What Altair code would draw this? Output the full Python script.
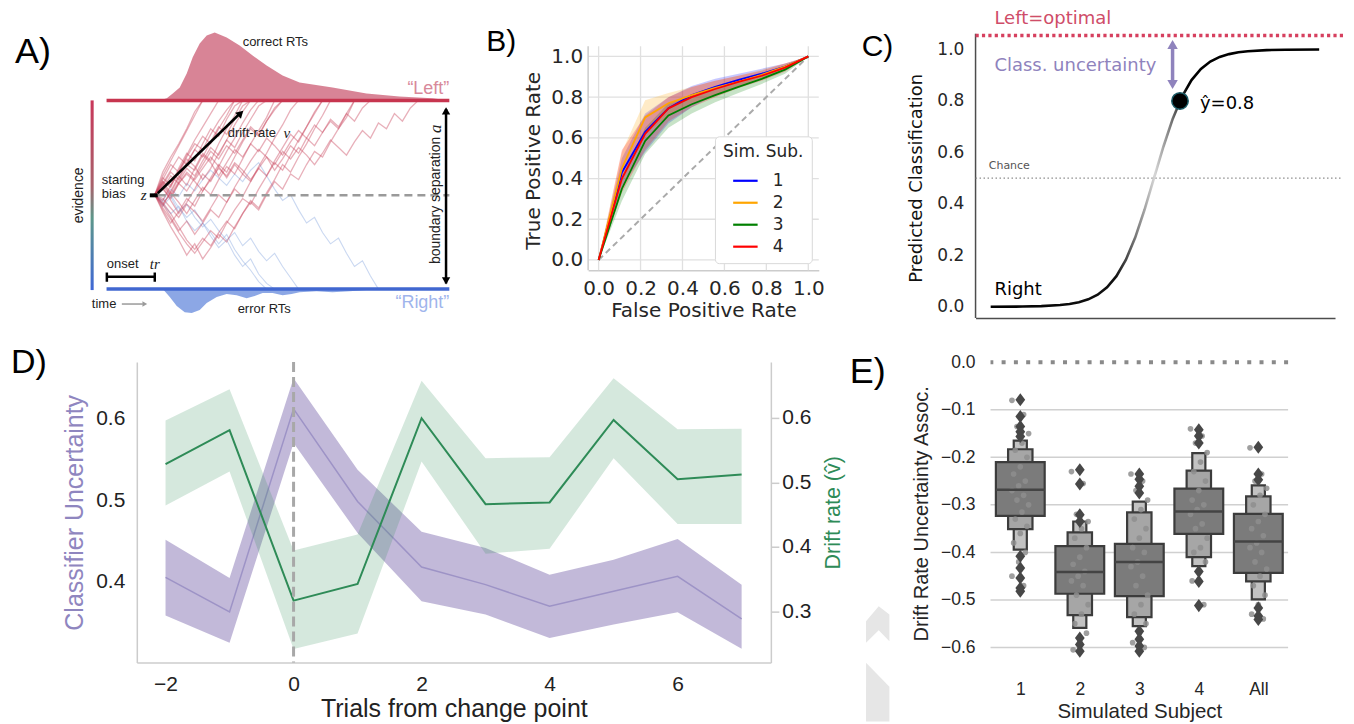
import altair as alt
import pandas as pd

AR = "Liberation Sans"
SE = "Liberation Serif"
DV = "DejaVu Sans"
INK = "#262626"
one = pd.DataFrame({"k": [0]})

# ======================= DATA =======================
# ---- Panel A (drift diffusion sketch) ----
left_rt_t = [65, 72, 78, 85, 92, 98, 105, 112, 120, 132, 145, 158, 172, 188, 205, 238, 272, 305, 338, 355]
left_rt_h = [0, 0.011, 0.037, 0.069, 0.143, 0.228, 0.302, 0.344, 0.360, 0.333, 0.291, 0.238,
             0.185, 0.132, 0.095, 0.069, 0.037, 0.021, 0.011, 0]
right_rt_t = [68, 75, 82, 90, 97, 105, 112, 122, 132, 142, 152, 160, 168, 178, 188, 197, 205, 222, 238, 255, 272, 288]
right_rt_h = [0, 0.042, 0.090, 0.122, 0.127, 0.111, 0.074, 0.042, 0.026, 0.032, 0.048, 0.037,
              0.021, 0.021, 0.032, 0.026, 0.016, 0.011, 0.016, 0.011, 0.005, 0]
walk_start, walk_step = 60, 8
red_walks = {
    "r1": [0.5, 0.58, 0.66, 0.62, 0.71, 0.79, 0.86, 0.93, 1.0],
    "r2": [0.5, 0.44, 0.52, 0.60, 0.55, 0.64, 0.72, 0.68, 0.77, 0.85, 0.92, 1.0],
    "r3": [0.5, 0.57, 0.51, 0.59, 0.67, 0.74, 0.70, 0.78, 0.86, 0.82, 0.90, 0.97, 1.0],
    "r4": [0.5, 0.42, 0.35, 0.41, 0.48, 0.44, 0.52, 0.59, 0.66, 0.62, 0.70, 0.78, 0.85, 0.81, 0.89, 0.96, 1.0],
    "r5": [0.5, 0.60, 0.68, 0.76, 0.84, 0.92, 1.0],
    "r6": [0.5, 0.45, 0.38, 0.31, 0.36, 0.29, 0.35, 0.42, 0.38, 0.46, 0.53, 0.49, 0.57, 0.64, 0.60, 0.68,
           0.75, 0.82, 0.78, 0.86, 0.93, 1.0],
    "r7": [0.5, 0.55, 0.62, 0.58, 0.66, 0.63, 0.71, 0.67, 0.60, 0.67, 0.74, 0.70, 0.77, 0.73, 0.80, 0.76,
           0.71, 0.78, 0.84, 0.80, 0.87, 0.83, 0.90, 0.86, 0.93, 0.89, 0.96, 1.0],
    "r8": [0.5, 0.46, 0.40, 0.33, 0.26, 0.21, 0.27, 0.23, 0.30, 0.36, 0.32, 0.40, 0.46, 0.42, 0.50, 0.57,
           0.53, 0.61, 0.58, 0.66, 0.73, 0.70, 0.78, 0.85, 0.91, 1.0],
    "r9": [0.5, 0.57, 0.54, 0.63, 0.70, 0.77, 0.74, 0.82, 0.89, 0.95, 1.0],
    "r10": [0.5, 0.53, 0.48, 0.56, 0.61, 0.57, 0.52, 0.58, 0.64, 0.60, 0.67, 0.63, 0.58, 0.64, 0.70, 0.66,
            0.73, 0.69, 0.75, 0.71, 0.66, 0.72, 0.79, 0.75, 0.71, 0.78, 0.84, 0.80, 0.88, 0.85, 0.93, 0.89, 0.96, 1.0],
    "r11": [0.5, 0.54, 0.47, 0.40, 0.46, 0.53, 0.61, 0.57, 0.65, 0.73, 0.80, 0.88, 0.95, 1.0],
    "r12": [0.5, 0.56, 0.63, 0.70, 0.66, 0.74, 0.81, 0.77, 0.85, 0.92, 1.0],
    "r13": [0.5, 0.47, 0.55, 0.62, 0.69, 0.65, 0.58, 0.64, 0.72, 0.79, 0.75, 0.83, 0.90, 0.97, 1.0],
    "r14": [0.5, 0.43, 0.37, 0.30, 0.24, 0.19, 0.25, 0.31, 0.27, 0.35, 0.42, 0.48, 0.45, 0.53, 0.60, 0.67,
            0.63, 0.71, 0.79, 0.86, 0.94, 1.0],
    "r15": [0.5, 0.55, 0.49, 0.56, 0.62, 0.58, 0.64, 0.70, 0.65, 0.59, 0.66, 0.61, 0.68, 0.74, 0.70, 0.63,
            0.69, 0.76, 0.72, 0.80, 0.76, 0.83, 0.89, 0.85, 0.93, 1.0],
    "r16": [0.5, 0.62, 0.70, 0.77, 0.85, 0.94, 1.0],
    "r17": [0.5, 0.41, 0.33, 0.26, 0.18, 0.24, 0.16, 0.22, 0.29, 0.25, 0.33, 0.40, 0.47, 0.43, 0.51, 0.58,
            0.66, 0.62, 0.70, 0.77, 0.85, 0.92, 1.0],
    "r18": [0.5, 0.53, 0.60, 0.56, 0.52, 0.59, 0.66, 0.73, 0.69, 0.76, 0.72, 0.79, 0.86, 0.82, 0.89, 0.95, 1.0],
    "r19": [0.5, 0.56, 0.50, 0.57, 0.64, 0.60, 0.68, 0.75, 0.71, 0.79, 0.87, 0.94, 1.0],
    "r20": [0.5, 0.45, 0.51, 0.46, 0.40, 0.47, 0.54, 0.50, 0.58, 0.65, 0.61, 0.69, 0.77, 0.84, 0.91, 1.0],
    "r21": [0.5, 0.59, 0.55, 0.64, 0.72, 0.68, 0.77, 0.85, 0.81, 0.90, 0.97, 1.0],
    "r22": [0.5, 0.48, 0.43, 0.38, 0.45, 0.41, 0.36, 0.43, 0.50, 0.46, 0.54, 0.61, 0.57, 0.65, 0.72, 0.80, 0.87, 0.95, 1.0],
}
blue_walks = {
    "b1": [0.5, 0.45, 0.40, 0.44, 0.36, 0.31, 0.35, 0.28, 0.22, 0.26, 0.18, 0.12, 0.16, 0.08, 0.03, 0.0],
    "b2": [0.5, 0.47, 0.53, 0.49, 0.56, 0.52, 0.58, 0.63, 0.59, 0.55, 0.61, 0.57, 0.63, 0.67, 0.60, 0.53,
           0.47, 0.50, 0.42, 0.35, 0.38, 0.30, 0.24, 0.27, 0.19, 0.12, 0.15, 0.07, 0.0],
    "b3": [0.5, 0.46, 0.50, 0.43, 0.38, 0.42, 0.35, 0.30, 0.24, 0.29, 0.21, 0.15, 0.10, 0.04, 0.0],
    "b4": [0.5, 0.44, 0.49, 0.41, 0.45, 0.38, 0.33, 0.37, 0.31, 0.26, 0.30, 0.23, 0.27, 0.20, 0.15, 0.19, 0.12, 0.06, 0.0],
}

# ---- Panel B (ROC) ----
fpr = [0, 0.111, 0.222, 0.333, 0.444, 0.556, 0.667, 0.778, 0.889, 1.0]
subjects = ["1", "2", "3", "4"]
tpr_mean = {
    "1": [0, 0.43, 0.63, 0.745, 0.81, 0.85, 0.885, 0.915, 0.95, 1.0],
    "2": [0, 0.45, 0.70, 0.77, 0.81, 0.845, 0.875, 0.91, 0.95, 1.0],
    "3": [0, 0.35, 0.585, 0.71, 0.765, 0.81, 0.85, 0.89, 0.935, 1.0],
    "4": [0, 0.40, 0.62, 0.745, 0.80, 0.84, 0.875, 0.905, 0.945, 1.0],
}
tpr_lo = {
    "1": [0, 0.36, 0.53, 0.67, 0.75, 0.81, 0.855, 0.895, 0.935, 1.0],
    "2": [0, 0.38, 0.62, 0.71, 0.77, 0.81, 0.85, 0.89, 0.935, 1.0],
    "3": [0, 0.29, 0.52, 0.65, 0.72, 0.775, 0.82, 0.865, 0.915, 1.0],
    "4": [0, 0.33, 0.54, 0.68, 0.75, 0.80, 0.845, 0.88, 0.925, 1.0],
}
tpr_hi = {
    "1": [0, 0.50, 0.72, 0.80, 0.855, 0.89, 0.915, 0.94, 0.965, 1.0],
    "2": [0, 0.53, 0.785, 0.82, 0.85, 0.88, 0.905, 0.935, 0.965, 1.0],
    "3": [0, 0.41, 0.65, 0.77, 0.81, 0.845, 0.88, 0.915, 0.955, 1.0],
    "4": [0, 0.54, 0.71, 0.80, 0.85, 0.88, 0.905, 0.93, 0.965, 1.0],
}
sub_colors = ["#0000ff", "#ffa500", "#008000", "#ff0000"]
ticks01 = [0, 0.2, 0.4, 0.6, 0.8, 1.0]

# ---- Panel C (sigmoid) ----
sig_x = [-8.7, -7, -6, -5, -4.5, -4, -3.5, -3, -2.5, -2, -1.5, -1, -0.5, 0, 0.5, 1, 1.5, 2, 2.5,
         3, 3.5, 4, 4.5, 5, 6, 7, 8.8]
sig_y = [0.0002, 0.0009, 0.0025, 0.0067, 0.011, 0.018, 0.029, 0.047, 0.076, 0.119, 0.182, 0.269,
         0.378, 0.5, 0.622, 0.731, 0.818, 0.881, 0.924, 0.953, 0.971, 0.982, 0.989, 0.993, 0.9975, 0.999, 1.0]
yhat = 0.8
yhat_x = 1.386

# ---- Panel D (change point) ----
trials = [-2, -1, 0, 1, 2, 3, 4, 5, 6, 7]
unc = [0.4056, 0.3633, 0.6119, 0.4985, 0.4183, 0.3967, 0.3702, 0.3885, 0.4069, 0.3548]
unc_lo = [0.3588, 0.3254, 0.5700, 0.4599, 0.3763, 0.3600, 0.3315, 0.3478, 0.3628, 0.3181]
unc_hi = [0.4517, 0.4049, 0.6494, 0.5373, 0.4615, 0.4416, 0.4089, 0.4273, 0.4526, 0.3967]
drift = [0.5283, 0.5810, 0.3166, 0.3424, 0.5995, 0.4663, 0.4689, 0.5969, 0.5050, 0.5122]
drift_lo = [0.4642, 0.5169, 0.2418, 0.2655, 0.5323, 0.3894, 0.3971, 0.5376, 0.4354, 0.4354]
drift_hi = [0.5958, 0.6444, 0.3945, 0.4193, 0.6578, 0.5376, 0.5391, 0.6614, 0.5825, 0.5830]
# faint grey shapes at the right edge of panel D (in panel D units)
chev1_x = [8.944, 9.142, 9.309]
chev1_top = [0.3518, 0.3702, 0.3600]
chev1_bot = [0.3254, 0.3408, 0.3274]
chev2_x = [8.944, 9.309]
chev2_top = [0.3010, 0.2716]
chev2_bot = [0.2292, 0.2292]

# ---- Panel E (boxen) ----
cats = ["1", "2", "3", "4", "All"]
l1_lo = [-0.323, -0.487, -0.492, -0.361, -0.443]
l1_hi = [-0.210, -0.387, -0.382, -0.266, -0.319]
l2_lo = [-0.351, -0.532, -0.536, -0.410, -0.461]
l2_hi = [-0.183, -0.358, -0.316, -0.228, -0.282]
l3_lo = [-0.394, -0.559, -0.555, -0.429, -0.499]
l3_hi = [-0.165, -0.335, -0.293, -0.191, -0.259]
medians = [-0.268, -0.441, -0.420, -0.314, -0.377]
outliers = {
    "1": [-0.079, -0.114, -0.135, -0.146, -0.156, -0.408, -0.433, -0.454, -0.475, -0.482],
    "2": [-0.226, -0.256, -0.321, -0.335, -0.580, -0.594, -0.608],
    "3": [-0.235, -0.246, -0.261, -0.275, -0.566, -0.583, -0.597, -0.608],
    "4": [-0.142, -0.155, -0.170, -0.440, -0.461, -0.512],
    "All": [-0.179, -0.235, -0.247, -0.517, -0.534, -0.541],
}
strips = {
    "1": [-0.08, -0.11, -0.135, -0.15, -0.17, -0.185, -0.20, -0.22, -0.235, -0.25, -0.26, -0.27, -0.28,
          -0.29, -0.30, -0.315, -0.33, -0.345, -0.36, -0.38, -0.40, -0.42, -0.45, -0.47],
    "2": [-0.23, -0.255, -0.32, -0.335, -0.35, -0.37, -0.39, -0.41, -0.425, -0.44, -0.45, -0.46, -0.47,
          -0.49, -0.51, -0.53, -0.55, -0.57, -0.59, -0.605],
    "3": [-0.235, -0.25, -0.27, -0.29, -0.31, -0.33, -0.35, -0.37, -0.39, -0.40, -0.42, -0.43, -0.45,
          -0.47, -0.49, -0.51, -0.53, -0.55, -0.57, -0.59, -0.60],
    "4": [-0.14, -0.155, -0.17, -0.19, -0.21, -0.23, -0.25, -0.27, -0.29, -0.30, -0.31, -0.32, -0.34,
          -0.35, -0.37, -0.39, -0.40, -0.42, -0.44, -0.46, -0.51],
    "All": [-0.18, -0.235, -0.25, -0.265, -0.28, -0.30, -0.32, -0.335, -0.35, -0.365, -0.38, -0.39, -0.40,
            -0.42, -0.435, -0.45, -0.47, -0.49, -0.51, -0.53, -0.54],
}
e_ticks = [0.0, -0.1, -0.2, -0.3, -0.4, -0.5, -0.6]


def panel_label(txt, px, py, size=36):
    return alt.Chart(one).mark_text(text=txt, font=AR, fontSize=size, align="left",
                                    baseline="alphabetic", color="black").encode(
        x=alt.value(px), y=alt.value(py))


def spacer(w, h=50, anchor_y=None):
    pt = alt.Chart(one).mark_point(opacity=0, size=4).encode(
        x=alt.value(w / 2), y=alt.value(25))
    if anchor_y is not None:
        rect = alt.Chart(one).mark_rect(opacity=0).encode(
            x=alt.value(0), x2=alt.value(1), y=alt.value(anchor_y), y2=alt.value(anchor_y + 1))
        return alt.layer(pt, rect).properties(width=w, height=h)
    return pt.properties(width=w, height=h)


# ======================= PANEL A =======================
sxA = alt.Scale(domain=[-87, 336], nice=False, zero=False)
syA = alt.Scale(domain=[-0.1534, 1.4868], nice=False, zero=False)


def XA(f):
    return alt.X(f, type="quantitative", scale=sxA, axis=None)


def YA(f):
    return alt.Y(f, type="quantitative", scale=syA, axis=None)


def walks_df(d):
    rows = []
    for name, vals in d.items():
        for i, v in enumerate(vals):
            rows.append({"w": name, "t": walk_start + walk_step * i, "e": v})
    return pd.DataFrame(rows)


anchor_tl = alt.Chart(one).mark_rect(opacity=0).encode(
    x=alt.value(0), x2=alt.value(1), y=alt.value(0), y2=alt.value(1))
anchor_bl = alt.Chart(one).mark_rect(opacity=0).encode(
    x=alt.value(0), x2=alt.value(1), y=alt.value(318), y2=alt.value(319))

grad_bar = alt.Chart(pd.DataFrame({"t0": [-4.3], "t1": [-1.2], "e0": [-0.005], "e1": [1.0]})).mark_rect(
    fill=alt.Gradient(gradient="linear", x1=0, x2=0, y1=0, y2=1, stops=[
        alt.GradientStop(offset=0, color="#c9375a"), alt.GradientStop(offset=0.45, color="#a8626c"),
        alt.GradientStop(offset=0.62, color="#5d978a"), alt.GradientStop(offset=1, color="#3f67d6")])
).encode(x=XA("t0"), x2="t1", y=YA("e1"), y2="e0")

dens_top = alt.Chart(pd.DataFrame({"t": left_rt_t, "h": left_rt_h})).transform_calculate(
    top="1 + datum.h", base="1").mark_area(color="#d57a8d", opacity=0.92).encode(
    x=XA("t"), y=YA("top"), y2="base")
dens_bot = alt.Chart(pd.DataFrame({"t": right_rt_t, "h": right_rt_h})).transform_calculate(
    bot="-datum.h", base="0").mark_area(color="#7f9de2", opacity=0.9).encode(
    x=XA("t"), y=YA("bot"), y2="base")

walk_blue = alt.Chart(walks_df(blue_walks)).mark_line(color="#8aa8e0", strokeWidth=1.1, opacity=0.45).encode(
    x=XA("t"), y=YA("e"), detail="w:N")
walk_red = alt.Chart(walks_df(red_walks)).mark_line(color="#c8435a", strokeWidth=1.3, opacity=0.42).encode(
    x=XA("t"), y=YA("e"), detail="w:N")

bound_left = alt.Chart(pd.DataFrame({"t0": [11.7], "t1": [355], "e": [1.0]})).mark_rule(
    color="#c7354f", strokeWidth=3.5).encode(x=XA("t0"), x2="t1", y=YA("e"))
bound_right = alt.Chart(pd.DataFrame({"t0": [11.7], "t1": [355], "e": [0.0]})).mark_rule(
    color="#4167d0", strokeWidth=3.5).encode(x=XA("t0"), x2="t1", y=YA("e"))
z_line = alt.Chart(pd.DataFrame({"t0": [63], "t1": [355], "e": [0.497]})).mark_rule(
    color="#9a9a9a", strokeWidth=2.5, strokeDash=[8, 5]).encode(x=XA("t0"), x2="t1", y=YA("e"))
z_mark = alt.Chart(pd.DataFrame({"t0": [55], "t1": [63], "e": [0.497]})).mark_rule(
    color="black", strokeWidth=4).encode(x=XA("t0"), x2="t1", y=YA("e"))
drift_arrow = alt.Chart(pd.DataFrame({"t0": [63], "t1": [144], "e0": [0.508], "e1": [0.924]})).mark_rule(
    color="black", strokeWidth=2.5).encode(x=XA("t0"), x2="t1", y=YA("e0"), y2="e1")
drift_head = alt.Chart(pd.DataFrame({"t": [146], "e": [0.932]})).mark_point(
    shape="triangle-up", angle=46, filled=True, color="black", size=70, opacity=1).encode(x=XA("t"), y=YA("e"))
sep_arrow = alt.Chart(pd.DataFrame({"t": [351.7], "e0": [0.03], "e1": [0.955]})).mark_rule(
    color="black", strokeWidth=2.5).encode(x=XA("t"), y=YA("e0"), y2="e1")
sep_heads = alt.Chart(pd.DataFrame({"t": [351.7, 351.7], "e": [0.945, 0.044],
                                    "s": ["triangle-up", "triangle-down"]})).mark_point(
    filled=True, color="black", size=70, opacity=1).encode(
    x=XA("t"), y=YA("e"), shape=alt.Shape("s:N", scale=None))
onset_bar = alt.Chart(pd.DataFrame({"t0": [12], "t1": [60], "e": [0.065]})).mark_rule(
    color="black", strokeWidth=2.5).encode(x=XA("t0"), x2="t1", y=YA("e"))
onset_ends = alt.Chart(pd.DataFrame({"t": [12, 60], "e0": [0.039, 0.039], "e1": [0.088, 0.088]})).mark_rule(
    color="black", strokeWidth=2.5).encode(x=XA("t"), y=YA("e0"), y2="e1")
time_arrow = alt.Chart(pd.DataFrame({"t0": [27], "t1": [48], "e": [-0.079]})).mark_rule(
    color="#9a9a9a", strokeWidth=1.5).encode(x=XA("t0"), x2="t1", y=YA("e"))
time_head = alt.Chart(pd.DataFrame({"t": [50], "e": [-0.079]})).mark_point(
    shape="triangle-right", filled=True, color="#9a9a9a", size=30, opacity=1).encode(x=XA("t"), y=YA("e"))

a_plain = pd.DataFrame({
    "txt": ["correct RTs", "error RTs", "starting", "bias", "onset", "time", "drift-rate"],
    "t": [148, 143, 7, 7, 12, -3, 133],
    "e": [1.307, -0.106, 0.580, 0.505, 0.132, -0.079, 0.825]})
a_text = alt.Chart(a_plain).mark_text(font=AR, fontSize=13, color="#222", align="left", baseline="middle").encode(
    x=XA("t"), y=YA("e"), text="txt:N")
a_ital = alt.Chart(pd.DataFrame({"txt": ["z", "tr", "v"], "t": [46, 55, 189], "e": [0.498, 0.132, 0.825]})).mark_text(
    font=SE, fontStyle="italic", fontSize=15, color="#222", align="left", baseline="middle").encode(
    x=XA("t"), y=YA("e"), text="txt:N")
a_rot = alt.Chart(pd.DataFrame({"txt": ["evidence", "boundary separation"], "t": [-16, 342],
                                "e": [0.497, 0.47]})).mark_text(
    font=AR, fontSize=14, color="#222", angle=270, align="center", baseline="middle").encode(
    x=XA("t"), y=YA("e"), text="txt:N")
a_rot_it = alt.Chart(pd.DataFrame({"txt": ["a"], "t": [342], "e": [0.85]})).mark_text(
    font=SE, fontStyle="italic", fontSize=17, color="#222", angle=270, align="center", baseline="middle").encode(
    x=XA("t"), y=YA("e"), text="txt:N")
a_left = alt.Chart(pd.DataFrame({"txt": ["\u201cLeft\u201d"], "t": [355], "e": [1.058]})).mark_text(
    font=AR, fontSize=18, color="#d8899a", align="right", baseline="middle").encode(
    x=XA("t"), y=YA("e"), text="txt:N")
a_right = alt.Chart(pd.DataFrame({"txt": ["\u201cRight\u201d"], "t": [355], "e": [-0.074]})).mark_text(
    font=AR, fontSize=18, color="#9fb5ec", align="right", baseline="middle").encode(
    x=XA("t"), y=YA("e"), text="txt:N")

panelA = alt.layer(
    anchor_tl, anchor_bl, grad_bar, dens_top, dens_bot, walk_blue, walk_red, bound_left, bound_right,
    z_line, z_mark, drift_arrow, drift_head, sep_arrow, sep_heads, onset_bar, onset_ends, time_arrow,
    time_head, a_text, a_ital, a_rot, a_rot_it, a_left, a_right, panel_label("A)", 7, 55)
).properties(width=423, height=310)

# ======================= PANEL B =======================
sxB = alt.Scale(domain=[-0.05, 1.05], nice=False, zero=False)
syB = alt.Scale(domain=[-0.05, 1.2353], nice=False, zero=False)
axXB = alt.Axis(values=ticks01, format=".1f", grid=False, ticks=False, domain=True, domainColor="#cccccc",
                domainWidth=1.5, labelFont=DV, labelFontSize=20, labelColor=INK, labelPadding=8,
                title="False Positive Rate", titleFont=DV, titleFontSize=20, titleFontWeight="normal",
                titleColor=INK, titlePadding=2)
axYB = alt.Axis(values=ticks01, format=".1f", grid=False, ticks=False, domain=False, labelFont=DV,
                labelFontSize=20, labelColor=INK, labelPadding=5.5, title="True Positive Rate", titleFont=DV,
                titleFontSize=20, titleFontWeight="normal", titleColor=INK, titlePadding=7, titleY=152)


def XB(f):
    return alt.X(f, type="quantitative", scale=sxB, axis=axXB)


def YB(f):
    return alt.Y(f, type="quantitative", scale=syB, axis=axYB)


roc_rows = []
for s in subjects:
    for i, fp in enumerate(fpr):
        roc_rows.append({"sub": s, "fpr": fp, "m": tpr_mean[s][i], "lo": tpr_lo[s][i], "hi": tpr_hi[s][i]})
roc = pd.DataFrame(roc_rows)
colB = alt.Scale(domain=subjects, range=sub_colors)
# legend position is relative to the whole figure's origin
legB = alt.Legend(
    title="Sim. Sub.", orient="none", legendX=708, legendY=128, titleFont=DV, titleFontSize=17,
    titleFontWeight="normal", titleColor=INK, labelFont=DV, labelFontSize=17, labelColor=INK,
    symbolType="stroke", symbolSize=600, symbolStrokeWidth=2.2, symbolOffset=9, symbolOpacity=1,
    labelOffset=14, fillColor="white", strokeColor="#d9d9d9", padding=8, cornerRadius=4, rowPadding=0,
    titlePadding=6)

hgrid = alt.Chart(pd.DataFrame({"g": ticks01})).mark_rule(color="#e0e0e0", strokeWidth=1.3).encode(y=YB("g"))
vgrid = alt.Chart(pd.DataFrame({"g": ticks01, "a": [-0.05] * 6, "b": [1.05] * 6})).mark_rule(
    color="#e0e0e0", strokeWidth=1.3).encode(x=XB("g"), y=YB("a"), y2="b")
spineB = alt.Chart(pd.DataFrame({"g": [-0.05], "a": [-0.05], "b": [1.05]})).mark_rule(
    color="#cccccc", strokeWidth=1.5).encode(x=XB("g"), y=YB("a"), y2="b")
diag = alt.Chart(pd.DataFrame({"fpr": [0, 1], "tpr": [0, 1]})).mark_line(
    color="#aaaaaa", strokeWidth=2, strokeDash=[6, 4]).encode(x=XB("fpr"), y=YB("tpr"))
bandsB = alt.Chart(roc).mark_area(opacity=0.22).encode(
    x=XB("fpr"), y=YB("lo"), y2="hi", color=alt.Color("sub:N", scale=colB, legend=legB), detail="sub:N")
linesB = alt.Chart(roc).mark_line(strokeWidth=1.8).encode(
    x=XB("fpr"), y=YB("m"), color=alt.Color("sub:N", scale=colB, legend=legB))

panelB = alt.layer(hgrid, vgrid, spineB, diag, bandsB, linesB,
                   panel_label("B)", -102, 43, 30)).properties(width=231, height=262)

# ======================= PANEL C =======================
sxC = alt.Scale(domain=[-9.505, 9.644], nice=False, zero=False)
syC = alt.Scale(domain=[-0.0438, 1.1591], nice=False, zero=False)
axXC = alt.Axis(labels=False, ticks=False, grid=False, title=None, domainColor="#4d4d4d", domainWidth=1.5)
axYC = alt.Axis(values=ticks01, format=".1f", domain=False, ticks=False, grid=False, labelFont=DV,
                labelFontSize=17, labelColor=INK, labelPadding=11.7, title="Predicted Classification",
                titleFont=DV, titleFontSize=18, titleFontWeight="normal", titleColor="#111111",
                titlePadding=11, titleY=169.5)


def XC(f):
    return alt.X(f, type="quantitative", scale=sxC, axis=axXC)


def YC(f):
    return alt.Y(f, type="quantitative", scale=syC, axis=axYC)


spineC = alt.Chart(pd.DataFrame({"x": [-9.505], "a": [-0.0438], "b": [1.061]})).mark_rule(
    color="#4d4d4d", strokeWidth=1.5).encode(x=XC("x"), y=YC("a"), y2="b")
chance = alt.Chart(pd.DataFrame({"x0": [-9.505], "x1": [10.05], "y": [0.5]})).mark_rule(
    color="#8c8c8c", strokeWidth=1.3, strokeDash=[1.5, 2.5]).encode(x=XC("x0"), x2="x1", y=YC("y"))
optimal = alt.Chart(pd.DataFrame({"x0": [-9.505], "x1": [10.1], "y": [1.054]})).mark_rule(
    color="#d6405f", strokeWidth=3.5, strokeDash=[3.2, 3.2]).encode(x=XC("x0"), x2="x1", y=YC("y"))
sigmoid = alt.Chart(pd.DataFrame({"x": sig_x, "y": sig_y})).mark_line(
    strokeWidth=2.6,
    stroke=alt.Gradient(gradient="linear", x1=0, x2=1, y1=0, y2=0, stops=[
        alt.GradientStop(offset=0, color="#000000"), alt.GradientStop(offset=0.38, color="#111111"),
        alt.GradientStop(offset=0.44, color="#777777"), alt.GradientStop(offset=0.5, color="#d6d6d6"),
        alt.GradientStop(offset=0.55, color="#777777"), alt.GradientStop(offset=0.6, color="#000000"),
        alt.GradientStop(offset=1, color="#000000")])).encode(x=XC("x"), y=YC("y"))
unc_arrow = alt.Chart(pd.DataFrame({"x": [0.99], "a": [0.865], "b": [1.02]})).mark_rule(
    color="#8f83bd", strokeWidth=3.5).encode(x=XC("x"), y=YC("a"), y2="b")
unc_heads = alt.Chart(pd.DataFrame({"x": [0.99, 0.99], "y": [1.019, 0.864],
                                    "s": ["triangle-up", "triangle-down"]})).mark_point(
    filled=True, color="#8f83bd", size=110, opacity=1).encode(
    x=XC("x"), y=YC("y"), shape=alt.Shape("s:N", scale=None))
dot = alt.Chart(pd.DataFrame({"x": [yhat_x], "y": [yhat]})).mark_point(
    shape="circle", filled=True, fill="black", stroke="#1b5b66", strokeWidth=1.5, size=270, opacity=1).encode(
    x=XC("x"), y=YC("y"))
c_txt = alt.Chart(pd.DataFrame({
    "txt": ["Left=optimal", "Class. uncertainty", "Right", "\u0177=0.8"],
    "x": [-8.5, -8.5, -8.5, 2.45], "y": [1.12, 0.935, 0.067, 0.79],
    "c": ["#cf4d69", "#8f83bd", "#000000", "#000000"]})).mark_text(
    font=DV, fontSize=18, align="left", baseline="middle").encode(
    x=XC("x"), y=YC("y"), text="txt:N", color=alt.Color("c:N", scale=None))
c_chance = alt.Chart(pd.DataFrame({"txt": ["Chance"], "x": [-8.8], "y": [0.546]})).mark_text(
    font=DV, fontSize=11, color="#555555", align="left", baseline="middle").encode(
    x=XC("x"), y=YC("y"), text="txt:N")

panelC = alt.layer(spineC, chance, optimal, sigmoid, unc_arrow, unc_heads, dot, c_txt, c_chance,
                   panel_label("C)", -114, 48, 30)).properties(width=360, height=310)

# ======================= PANEL D =======================
sxD = alt.Scale(domain=[-2.449, 7.457], nice=False, zero=False)
syDL = alt.Scale(domain=[0.3013, 0.6693], nice=False, zero=False)
syDR = alt.Scale(domain=[0.2206, 0.6867], nice=False, zero=False)
axXD = alt.Axis(values=[-2, 0, 2, 4, 6], grid=False, ticks=False, domainColor="#cccccc", domainWidth=1.5,
                labelFont=AR, labelFontSize=21, labelColor="#222222", labelPadding=11,
                title="Trials from change point", titleFont=AR, titleFontSize=25, titleFontWeight="normal",
                titleColor="#222222", titlePadding=2)
axYDL = alt.Axis(orient="left", values=[0.4, 0.5, 0.6], format=".1f", grid=False, ticks=False,
                 domainColor="#cccccc", domainWidth=1.5, labelFont=AR, labelFontSize=21, labelColor="#222222",
                 labelPadding=12, title="Classifier Uncertainty", titleFont=AR, titleFontSize=25,
                 titleFontWeight="normal", titleColor="#8f86bf", titlePadding=8)
axYDR = alt.Axis(orient="right", values=[0.3, 0.4, 0.5, 0.6], format=".1f", grid=False, ticks=True,
                 tickSize=8, tickColor="#cccccc", tickWidth=1.5, domainColor="#cccccc", domainWidth=1.5,
                 labelFont=AR, labelFontSize=21, labelColor="#222222", labelPadding=3,
                 title="Drift rate (v\u0302)", titleFont=AR, titleFontSize=21.5, titleFontWeight="normal",
                 titleColor="#2e8b57", titleAngle=270, titleBaseline="top", titlePadding=12)


def XD(f):
    return alt.X(f, type="quantitative", scale=sxD, axis=axXD)


dfD = pd.DataFrame({"x": trials, "u": unc, "u_lo": unc_lo, "u_hi": unc_hi,
                    "v": drift, "v_lo": drift_lo, "v_hi": drift_hi})


def YL(f):
    return alt.Y(f, type="quantitative", scale=syDL, axis=axYDL)


def YR(f):
    return alt.Y(f, type="quantitative", scale=syDR, axis=axYDR)


purple = alt.layer(
    alt.Chart(pd.DataFrame({"x": chev1_x, "a": chev1_top, "b": chev1_bot})).mark_area(color="#e6e6e6").encode(
        x=XD("x"), y=YL("a"), y2="b"),
    alt.Chart(pd.DataFrame({"x": chev2_x, "a": chev2_top, "b": chev2_bot})).mark_area(color="#e6e6e6").encode(
        x=XD("x"), y=YL("a"), y2="b"),
    alt.Chart(dfD).mark_area(color="#8673b4", opacity=0.5).encode(x=XD("x"), y=YL("u_lo"), y2="u_hi"),
    alt.Chart(dfD).mark_line(color="#9d93c6", strokeWidth=1.5).encode(x=XD("x"), y=YL("u")),
)
green = alt.layer(
    alt.Chart(dfD).mark_area(color="#2e8b57", opacity=0.2).encode(x=XD("x"), y=YR("v_lo"), y2="v_hi"),
    alt.Chart(dfD).mark_line(color="#2e8b57", strokeWidth=2).encode(x=XD("x"), y=YR("v")),
)
cp_rule = alt.Chart(pd.DataFrame({"x": [0]})).mark_rule(
    color="#a8a8a8", strokeWidth=3, strokeDash=[10, 5]).encode(x=XD("x"))

panelD = alt.layer(purple, green, cp_rule, panel_label("D)", -126, 11, 34)).resolve_scale(
    y="independent").properties(width=635, height=301)

# ======================= PANEL E =======================
sxE = alt.Scale(domain=[-0.5, 4.5], nice=False, zero=False)
syE = alt.Scale(domain=[-0.636, 0.0006], nice=False, zero=False)
cat_expr = "['" + "','".join(cats) + "'][datum.value]"
axXE = alt.Axis(values=list(range(len(cats))), labelExpr=cat_expr, labelAngle=0, domain=False, ticks=False,
                grid=False, labelFont=AR, labelFontSize=17.5, labelColor=INK, labelPadding=16,
                title="Simulated Subject", titleFont=AR, titleFontSize=20.5, titleFontWeight="normal",
                titleColor=INK, titlePadding=4)
axYE = alt.Axis(values=e_ticks, format=".1f", domain=False, ticks=False, grid=False, labelFont=AR,
                labelFontSize=17.5, labelColor=INK, labelPadding=15.5, title="Drift Rate Uncertainty Assoc.",
                titleFont=AR, titleFontSize=20, titleFontWeight="normal", titleColor=INK, titlePadding=9)


def XE(f):
    return alt.X(f, type="quantitative", scale=sxE, axis=axXE)


def YE(f):
    return alt.Y(f, type="quantitative", scale=syE, axis=axYE)


boxen = pd.DataFrame({"pos": list(range(len(cats))), "l1a": l1_lo, "l1b": l1_hi, "l2a": l2_lo, "l2b": l2_hi,
                      "l3a": l3_lo, "l3b": l3_hi, "med": medians})
out_rows = [{"pos": cats.index(c), "v": v} for c in cats for v in outliers[c]]
strip_rows = []
for c in cats:
    for i, v in enumerate(strips[c]):
        strip_rows.append({"pos": cats.index(c), "v": v, "jit": ((i * 7) % 11) / 5.0 - 1.0})

gridE = alt.Chart(pd.DataFrame({"g": [-0.1, -0.2, -0.3, -0.4, -0.5, -0.6]})).mark_rule(
    color="#d0d0d0", strokeWidth=1.5).encode(y=YE("g"))
zeroE = alt.Chart(pd.DataFrame({"g": [0.0]})).mark_rule(
    color="#8a8a8a", strokeWidth=4, strokeDash=[4, 8.3]).encode(y=YE("g"))


def box_layer(lo, hi, half, fill):
    return alt.Chart(boxen).transform_calculate(
        xa=f"datum.pos - {half}", xb=f"datum.pos + {half}").mark_rect(
        fill=fill, stroke="#3c3c3c", strokeWidth=2.2).encode(x=XE("xa"), x2="xb", y=YE(lo), y2=hi)


box3 = box_layer("l3a", "l3b", 0.11, "#c2c2c2")
box2 = box_layer("l2a", "l2b", 0.205, "#a6a6a6")
box1 = box_layer("l1a", "l1b", 0.41, "#7b7b7b")
med_line = alt.Chart(boxen).transform_calculate(
    xa="datum.pos - 0.41", xb="datum.pos + 0.41").mark_rule(color="#444444", strokeWidth=2.5).encode(
    x=XE("xa"), x2="xb", y=YE("med"))
strip = alt.Chart(pd.DataFrame(strip_rows)).transform_calculate(
    xj="datum.pos + 0.14 * datum.jit").mark_circle(size=32, color="#8e8e8e", opacity=0.85).encode(
    x=XE("xj"), y=YE("v"))
outl = alt.Chart(pd.DataFrame(out_rows)).mark_point(
    shape="M0,-1L0.75,0L0,1L-0.75,0Z", filled=True, color="#474747", size=170, opacity=1).encode(
    x=XE("pos"), y=YE("v"))

panelE = alt.layer(gridE, zeroE, box3, box2, box1, strip, med_line, outl,
                   panel_label("E)", -141, 21, 36)).properties(width=298, height=303)

# ======================= LAYOUT =======================
row1 = alt.hconcat(panelA, spacer(158), panelB, spacer(157), panelC, spacing=0, bounds="flush")
row2 = alt.hconcat(spacer(129, anchor_y=-30), panelD, spacer(220), panelE, spacing=0, bounds="flush")
chart = alt.vconcat(row1, row2, spacing=5, padding=0).configure_view(strokeWidth=0)

chart.save("out.html", embed_options={"renderer": "svg", "actions": False})
